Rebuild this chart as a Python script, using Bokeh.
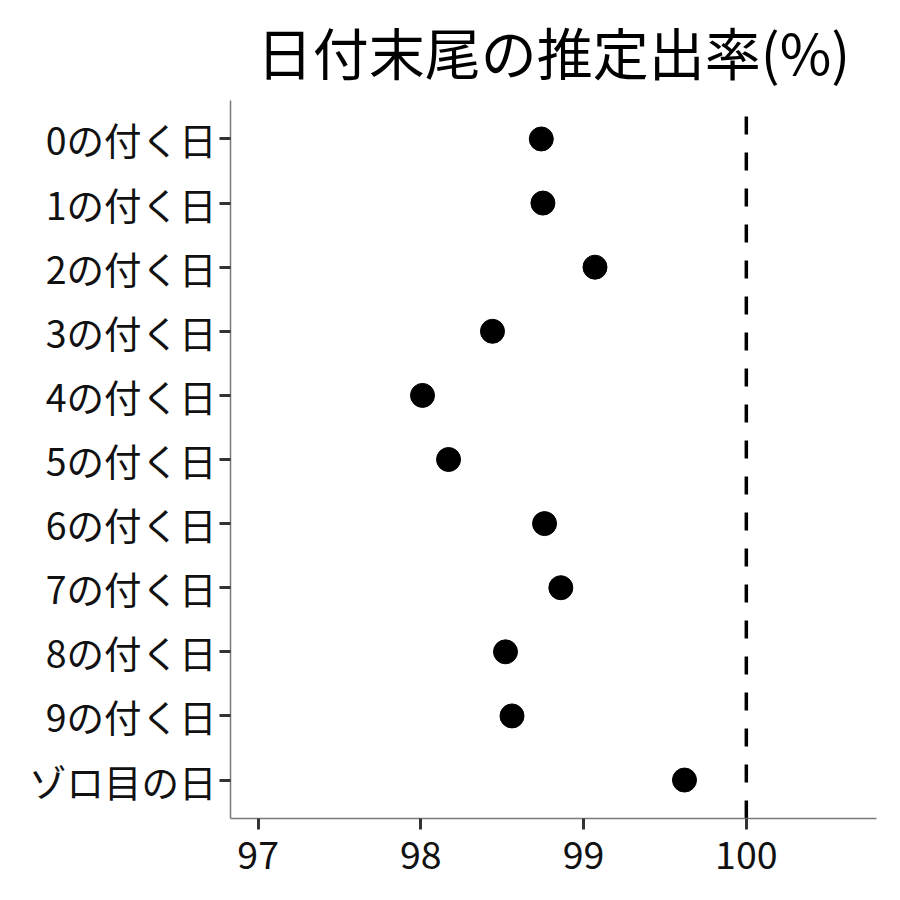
from bokeh.plotting import figure
from bokeh.models import FactorRange, Range1d, FixedTicker, Title
from bokeh.embed import file_html
from bokeh.resources import INLINE

categories = ["0の付く日", "1の付く日", "2の付く日", "3の付く日", "4の付く日",
              "5の付く日", "6の付く日", "7の付く日", "8の付く日", "9の付く日", "ゾロ目の日"]
rates = [98.74, 98.75, 99.07, 98.44, 98.01, 98.17, 98.76, 98.86, 98.52, 98.56, 99.62]
x_ticks = [97, 98, 99, 100]
reference = 100
title_text = "日付末尾の推定出率(%)"

FONT = "Noto Sans CJK JP"
X_START, X_END = 96.83, 100.80

yr = FactorRange(factors=categories[::-1], range_padding=0.1, range_padding_units="absolute")
p = figure(width=884, height=884, y_range=yr, x_range=Range1d(X_START, X_END),
           output_backend="svg", toolbar_location=None,
           min_border_left=230, min_border_right=8, min_border_top=100, min_border_bottom=66)

p.title = Title(text=title_text, align="center", text_font=FONT, text_font_size="56px",
                text_font_style="normal", text_color="#000000", offset=0, standoff=16,
                vertical_align="top")

p.line(x=[reference, reference], y=[(categories[-1], -0.6), (categories[0], 0.6)],
       line_color="black", line_width=3.5, line_dash="18 18")
p.scatter(x=rates, y=categories, size=24, color="black")

p.grid.visible = False
p.outline_line_color = None
p.background_fill_color = "white"
p.border_fill_color = "white"

for ax in (p.xaxis[0], p.yaxis[0]):
    ax.axis_line_color = "#7a7a7a"
    ax.axis_line_width = 1.5
    ax.major_tick_line_color = "#333333"
    ax.major_tick_line_width = 3
    ax.major_tick_out = 11
    ax.major_tick_in = 0
    ax.minor_tick_line_color = None
    ax.major_label_text_font = FONT
    ax.major_label_text_font_size = "37.5px"
    ax.major_label_text_color = "#111111"

p.xaxis.ticker = FixedTicker(ticks=x_ticks)
p.xaxis.major_label_standoff = 11
p.yaxis.major_label_standoff = 3

open("out.html", "w").write(file_html(p, INLINE))
